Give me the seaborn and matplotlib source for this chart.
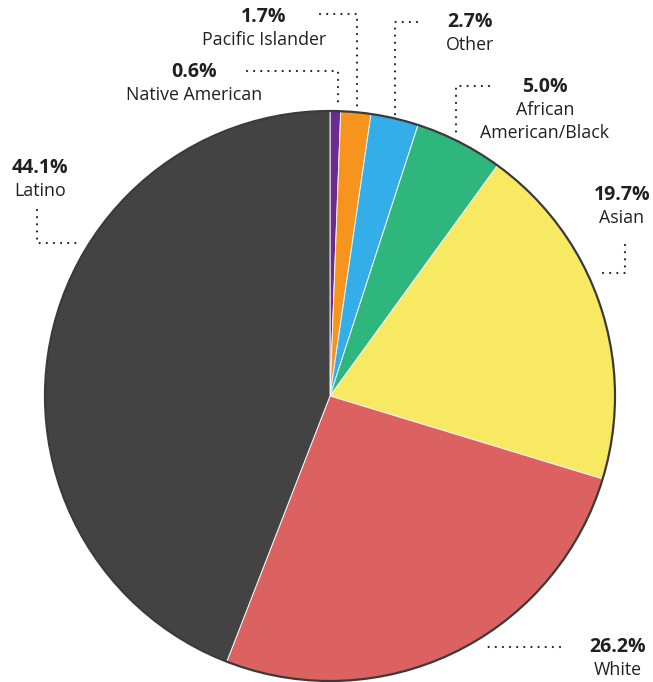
import matplotlib
matplotlib.use('Agg')
import matplotlib.pyplot as plt
import seaborn as sns

# slices, clockwise from the top
groups = ['Native American', 'Pacific Islander', 'Other', 'African\nAmerican/Black',
          'Asian', 'White', 'Latino']
shares = [0.6, 1.7, 2.7, 5.0, 19.7, 26.2, 44.1]
slice_colors = ['#6a2c8e', '#f7941e', '#33aee8', '#2eb67c', '#f8e962', '#db6260', '#434343']

sns.set_style('white')
plt.rcParams['font.family'] = ['Open Sans', 'DejaVu Sans']

W, H = 653, 682
txt_color = '#231f20'


def py(y):
    # picture rows run top-down, axes run bottom-up
    return H - y


fig = plt.figure(figsize=(W / 100, H / 100), dpi=100)
ax = fig.add_axes([0, 0, 1, 1])
ax.set_xlim(0, W)
ax.set_ylim(0, H)
ax.set_aspect('equal')
ax.axis('off')

cx, cy, r = 330, py(396), 285
pal = sns.color_palette(slice_colors)
ax.pie(shares, colors=pal, startangle=90, counterclock=False, center=(cx, cy),
       radius=r, frame=True, wedgeprops=dict(edgecolor='#f4f4f4', linewidth=0.7))
ax.add_patch(plt.Circle((cx, cy), r, fill=False, edgecolor='#3a3a3a', lw=1.6, zorder=5))
ax.set_xlim(0, W)
ax.set_ylim(0, H)
ax.axis('off')

# label anchors (centre x, top line y) and leader paths
label_pos = {
    'Native American': (194, 72),
    'Pacific Islander': (264, 17),
    'Other': (470, 22),
    'African\nAmerican/Black': (545, 87),
    'Asian': (622, 195),
    'White': (618, 647),
    'Latino': (40, 168),
}
leaders = {
    'Native American': [(247, 71), (338, 71), (338, 107)],
    'Pacific Islander': [(320, 14), (357, 14), (357, 110)],
    'Other': [(417, 22), (395, 22), (395, 115)],
    'African\nAmerican/Black': [(489, 86), (456, 86), (456, 138)],
    'Asian': [(625, 245), (625, 273), (597, 273)],
    'White': [(560, 647), (482, 647)],
    'Latino': [(37, 210), (37, 243), (79, 243)],
}

fs = 12.8
for g, s in zip(groups, shares):
    x, y = label_pos[g]
    ax.text(x, py(y), f'{s:.1f}%', ha='center', va='center', fontsize=14,
            fontweight='bold', color=txt_color)
    for i, line in enumerate(g.split('\n')):
        ax.text(x, py(y + 23 * (i + 1)), line, ha='center', va='center',
                fontsize=fs, color=txt_color)
    pts = leaders[g]
    ax.plot([p[0] for p in pts], [py(p[1]) for p in pts], color=txt_color,
            lw=1.6, linestyle=(0, (0.01, 3.2)), dash_capstyle='round')

fig.savefig('out.png', dpi=100, facecolor='white')
